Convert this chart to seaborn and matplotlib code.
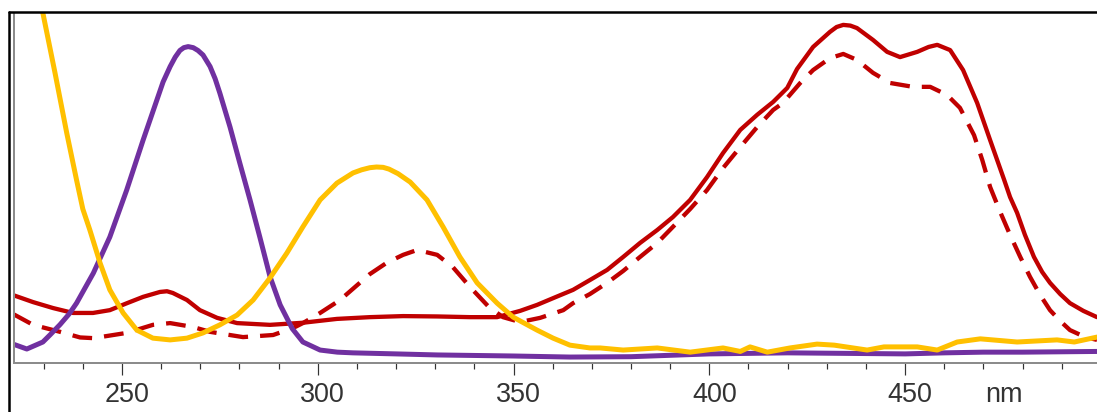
import pandas as pd
import matplotlib.pyplot as plt
import matplotlib.transforms as mtransforms
from matplotlib.lines import Line2D
from matplotlib.ticker import MultipleLocator
import seaborn as sns

# Спектры поглощения (нм, отн. оптическая плотность)

# красная сплошная
red_nm = [222.2, 227.3, 232.4, 237.5, 242.6, 246.9, 251.3, 255.4, 259.7, 261.5,
          263.0, 266.6, 269.9, 274.3, 279.4, 287.8, 296.2, 304.9, 313.3, 321.8,
          330.5, 338.9, 345.8, 351.7, 356.0, 360.9, 365.2, 369.5, 373.9, 378.0,
          382.3, 386.7, 390.7, 395.1, 399.4, 403.5, 407.9, 412.2, 416.3, 419.9,
          422.4, 426.5, 430.8, 432.5, 434.2, 436.0, 437.7, 441.8, 445.4, 448.7,
          453.1, 456.0, 458.2, 461.5, 464.8, 468.4, 471.7, 473.5, 475.3, 476.8,
          478.6, 480.6, 482.9, 485.0, 487.0, 489.6, 492.1, 495.5, 499.0]
red_abs = [0.194, 0.174, 0.157, 0.143, 0.143, 0.151, 0.171, 0.189, 0.203, 0.205,
           0.200, 0.180, 0.151, 0.129, 0.114, 0.109, 0.115, 0.126, 0.131, 0.134,
           0.133, 0.131, 0.131, 0.149, 0.166, 0.189, 0.209, 0.237, 0.266, 0.303,
           0.343, 0.380, 0.417, 0.466, 0.531, 0.600, 0.666, 0.709, 0.746, 0.786,
           0.840, 0.903, 0.946, 0.960, 0.966, 0.964, 0.957, 0.923, 0.889, 0.874,
           0.889, 0.903, 0.909, 0.894, 0.837, 0.743, 0.637, 0.580, 0.523, 0.474,
           0.429, 0.366, 0.303, 0.260, 0.229, 0.197, 0.171, 0.149, 0.131]

# красная пунктирная
red2_nm = [222.2, 227.3, 234.2, 239.3, 242.7, 251.2, 257.9, 262.3, 268.1, 272.5,
           280.9, 288.6, 293.7, 296.2, 300.6, 305.7, 313.3, 317.7, 321.8, 325.4,
           330.5, 334.5, 338.9, 343.7, 347.3, 351.7, 356.8, 362.7, 365.2, 369.5,
           373.9, 378.0, 382.3, 386.7, 390.7, 395.1, 399.4, 403.5, 407.9, 412.2,
           416.3, 418.8, 423.2, 426.5, 430.8, 434.2, 437.7, 441.8, 446.2, 452.0,
           456.4, 460.7, 464.0, 467.6, 469.7, 471.7, 474.3, 476.8, 479.4, 481.9,
           484.5, 487.0, 489.6, 492.1, 496.0, 499.0]
red2_abs = [0.140, 0.109, 0.089, 0.073, 0.071, 0.086, 0.109, 0.114, 0.103, 0.089,
            0.074, 0.080, 0.100, 0.114, 0.143, 0.180, 0.254, 0.287, 0.309, 0.323,
            0.309, 0.274, 0.217, 0.160, 0.131, 0.117, 0.129, 0.151, 0.171, 0.197,
            0.229, 0.263, 0.303, 0.343, 0.389, 0.440, 0.494, 0.557, 0.617, 0.674,
            0.723, 0.743, 0.800, 0.837, 0.871, 0.883, 0.866, 0.829, 0.800, 0.789,
            0.789, 0.766, 0.729, 0.651, 0.580, 0.503, 0.431, 0.366, 0.303, 0.246,
            0.194, 0.151, 0.120, 0.094, 0.074, 0.066]

# фиолетовая
purple_nm = [222.2, 225.7, 229.8, 231.6, 234.2, 236.5, 238.4, 242.7, 246.9, 251.2,
             255.4, 258.9, 260.5, 262.3, 263.6, 264.8, 265.8, 266.9, 268.2, 269.4,
             270.7, 272.5, 273.8, 275.0, 277.6, 280.1, 282.7, 285.2, 287.8, 290.4,
             293.5, 296.2, 300.6, 305.0, 309.0, 320.0, 330.5, 350.0, 364.4, 380.0,
             390.0, 400.0, 420.0, 440.0, 450.0, 460.0, 470.0, 480.0, 499.0]
purple_abs = [0.054, 0.040, 0.060, 0.080, 0.110, 0.140, 0.171, 0.257, 0.360, 0.494,
              0.637, 0.751, 0.803, 0.847, 0.874, 0.893, 0.901, 0.904, 0.901, 0.893,
              0.880, 0.847, 0.812, 0.771, 0.674, 0.571, 0.466, 0.360, 0.247, 0.166,
              0.098, 0.060, 0.037, 0.031, 0.029, 0.026, 0.023, 0.020, 0.017, 0.018,
              0.022, 0.026, 0.029, 0.027, 0.026, 0.029, 0.031, 0.031, 0.033]

# жёлтая
yellow_nm = [222.2, 229.8, 232.9, 235.9, 238.4, 240.0, 241.8, 244.4, 246.9, 250.3,
             253.8, 257.9, 262.3, 266.6, 270.7, 275.0, 279.4, 283.5, 287.8, 292.1,
             296.2, 300.6, 304.9, 309.0, 311.2, 313.3, 315.0, 316.7, 318.2, 320.5,
             323.6, 327.9, 332.0, 336.3, 340.7, 345.8, 349.9, 356.0, 360.1, 364.4,
             369.5, 372.1, 378.0, 386.7, 395.1, 403.5, 407.9, 410.4, 414.8, 420.6,
             427.5, 431.9, 440.3, 444.6, 453.1, 458.2, 463.3, 469.2, 478.6, 488.8,
             493.2, 499.0]
yellow_abs = [1.45, 1.0, 0.829, 0.657, 0.523, 0.440, 0.380, 0.286, 0.209, 0.143,
              0.094, 0.071, 0.066, 0.071, 0.086, 0.109, 0.137, 0.180, 0.243, 0.314,
              0.389, 0.466, 0.514, 0.543, 0.552, 0.558, 0.560, 0.559, 0.554, 0.541,
              0.517, 0.466, 0.389, 0.303, 0.229, 0.171, 0.131, 0.094, 0.071, 0.051,
              0.043, 0.043, 0.037, 0.043, 0.031, 0.043, 0.033, 0.046, 0.031, 0.043,
              0.054, 0.051, 0.037, 0.046, 0.046, 0.037, 0.060, 0.069, 0.060, 0.066,
              0.060, 0.074]

tick_color = '#333333'
spine_color = '#8c8c8c'

sns.set_theme(style='white')
plt.rcParams['font.family'] = ['Liberation Sans', 'DejaVu Sans']

fig = plt.figure(figsize=(1097 / 72, 412 / 72), dpi=72)
ax = fig.add_axes([13.5 / 1097, 49 / 412, 1 - 13.5 / 1097, 350 / 412])

# порядок отрисовки: пунктир, сплошная, фиолетовая, жёлтая
sns.lineplot(x=red2_nm, y=red2_abs, color='#C00000', linewidth=4.3,
             linestyle=(0, (4.6, 2.8)), ax=ax)
sns.lineplot(x=red_nm, y=red_abs, color='#C00000', linewidth=4.3, ax=ax)
sns.lineplot(x=purple_nm, y=purple_abs, color='#7030A0', linewidth=5, ax=ax)
sns.lineplot(x=yellow_nm, y=yellow_abs, color='#FFC000', linewidth=5, ax=ax)

for line in ax.lines:
    line.set_solid_joinstyle('round')
    line.set_dash_joinstyle('round')

ax.set_xlim(222.3, 499)
ax.set_ylim(0, 1)
ax.set_xlabel('')
ax.set_ylabel('')
ax.set_yticks([])

ax.xaxis.set_major_locator(MultipleLocator(50))
ax.xaxis.set_minor_locator(MultipleLocator(10))
ax.tick_params(axis='x', which='major', bottom=True, direction='out', length=12,
               width=1.2, color=tick_color, pad=7, labelsize=27,
               labelcolor=tick_color)
ax.tick_params(axis='x', which='minor', bottom=True, direction='out', length=6,
               width=1.2, color=tick_color)

for side in ['top', 'right']:
    ax.spines[side].set_visible(False)
for side in ['left', 'bottom']:
    ax.spines[side].set_color(spine_color)
    ax.spines[side].set_linewidth(2)

# подписи чуть правее рисок
shift = mtransforms.ScaledTranslation(5 / 72, 0, fig.dpi_scale_trans)
for lab in ax.get_xticklabels():
    lab.set_transform(lab.get_transform() + shift)

ax.annotate('nm', xy=(475.3, 0), xycoords=('data', 'axes fraction'),
            xytext=(0, -19), textcoords='offset points',
            ha='center', va='top', fontsize=27, color=tick_color)

# чёрная рамка сверху и слева
fig.add_artist(Line2D([8.5 / 1097, 1], [1 - 12 / 412, 1 - 12 / 412],
                      color='black', linewidth=2.5, transform=fig.transFigure))
fig.add_artist(Line2D([8.5 / 1097, 8.5 / 1097], [0, 1 - 12 / 412],
                      color='black', linewidth=2.5, transform=fig.transFigure))

fig.savefig('out.png', dpi=72)
